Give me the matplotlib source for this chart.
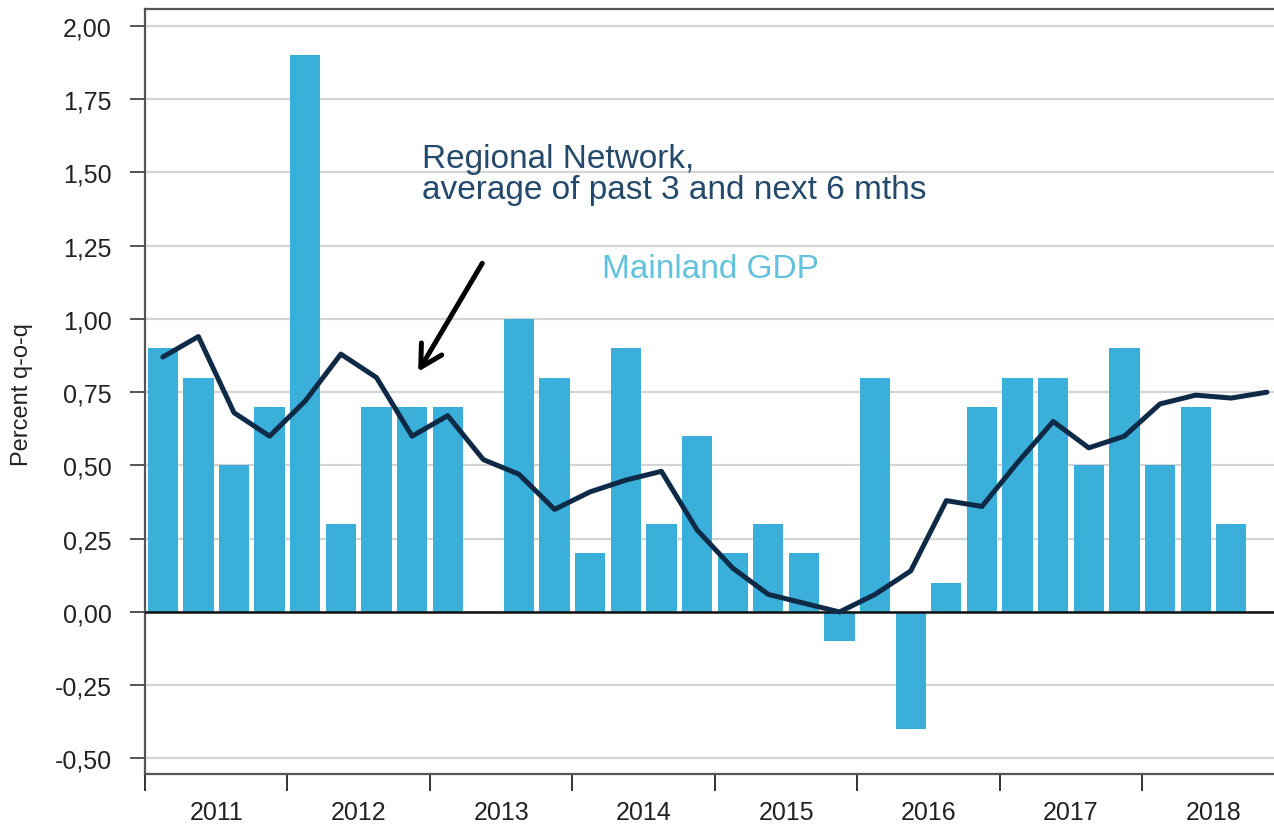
import numpy as np
import matplotlib.pyplot as plt
from matplotlib.ticker import FixedLocator, FuncFormatter

# === Data ===
years = ["2011", "2012", "2013", "2014", "2015", "2016", "2017", "2018"]

# Mainland GDP, percent q-o-q (2011Q1 ... 2018Q3)
gdp = [0.9, 0.8, 0.5, 0.7,
       1.9, 0.3, 0.7, 0.7,
       0.7, 0.0, 1.0, 0.8,
       0.2, 0.9, 0.3, 0.6,
       0.2, 0.3, 0.2, -0.1,
       0.8, -0.4, 0.1, 0.7,
       0.8, 0.8, 0.5, 0.9,
       0.5, 0.7, 0.3]

# Regional Network, average of past 3 and next 6 months (2011Q1 ... 2018Q4)
network = [0.87, 0.94, 0.68, 0.60,
           0.72, 0.88, 0.80, 0.60,
           0.67, 0.52, 0.47, 0.35,
           0.41, 0.45, 0.48, 0.28,
           0.15, 0.06, 0.03, 0.00,
           0.06, 0.14, 0.38, 0.36,
           0.51, 0.65, 0.56, 0.60,
           0.71, 0.74, 0.73, 0.75]

bar_color = "#3aafd9"
line_color = "#0e2a47"

plt.rcParams['font.family'] = ['Liberation Sans', 'DejaVu Sans']

fig = plt.figure(figsize=(12.74, 8.28), dpi=100)
ax = fig.add_axes([0.1138, 0.064, 0.8862, 0.924])

x_bar = np.arange(len(gdp))
x_line = np.arange(len(network))

ax.bar(x_bar, gdp, width=0.85, color=bar_color, zorder=2)
ax.plot(x_line, network, color=line_color, lw=3.6, zorder=4,
        solid_joinstyle='round', solid_capstyle='round')
ax.axhline(0, color="#111111", lw=1.8, zorder=3)

ax.set_ylim(-0.553, 2.058)
ax.set_xlim(-0.5, 31.2)

# y axis
yticks = np.arange(-0.5, 2.01, 0.25)
ax.set_yticks(yticks)
ax.yaxis.set_major_formatter(FuncFormatter(lambda v, p: f"{v:.2f}".replace(".", ",")))
ax.grid(axis='y', color="#d4d4d4", lw=1.6, zorder=0)
ax.tick_params(axis='y', direction='out', length=11, width=1.4, color="#555555",
               labelsize=18, labelcolor="#222222", pad=13)
fig.text(22 / 1274, 1 - 395 / 828, "Percent q-o-q", rotation=90, fontsize=17,
         color="#222222", ha='center', va='center')

# x axis: year boundaries as ticks, year labels centred in between
bounds = np.arange(-0.5, 32, 4)
ax.xaxis.set_major_locator(FixedLocator(bounds))
ax.xaxis.set_minor_locator(FixedLocator(bounds[:-1] + 2))
ax.set_xticklabels([""] * len(bounds))
ax.set_xticklabels(years, minor=True)
ax.tick_params(axis='x', which='major', direction='out', length=12, width=1.4, color="#333333")
ax.tick_params(axis='x', which='minor', length=0, labelsize=18, labelcolor="#222222", pad=19)

for side in ['left', 'bottom', 'top']:
    ax.spines[side].set_color("#555555")
    ax.spines[side].set_linewidth(1.6)
ax.spines['right'].set_visible(False)

# annotations
ax.text(7.28, 1.493, "Regional Network,\naverage of past 3 and next 6 mths",
        fontsize=24, color="#24496a", ha='left', va='center', linespacing=1.0)
ax.text(12.34, 1.171, "Mainland GDP", fontsize=24, color="#62c1dc", ha='left', va='center')
ax.annotate("", xy=(7.17, 0.82), xytext=(8.97, 1.19),
            arrowprops=dict(arrowstyle="->,head_length=0.9,head_width=0.5",
                            mutation_scale=17, color="black", lw=3.6,
                            shrinkA=0, shrinkB=0), zorder=5)

fig.savefig("out.png", dpi=100, facecolor="white")
